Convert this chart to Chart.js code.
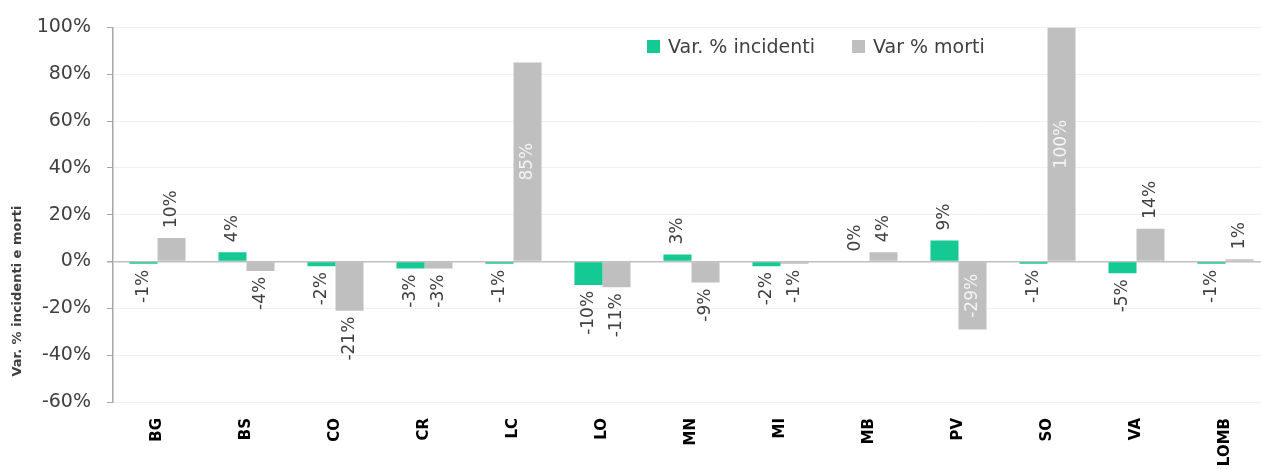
<!DOCTYPE html>
<html>
<head>
<meta charset="utf-8">
<script src="https://cdn.jsdelivr.net/npm/chart.js@4"></script>
<style>
  html, body { margin: 0; padding: 0; background: #fff; overflow: hidden; }
  #wrap { position: relative; width: 1272px; height: 469px; }
  #legend { position: absolute; left: 647px; top: 35px; list-style: none; margin: 0; padding: 0;
    display: flex; font-family: "DejaVu Sans", sans-serif; font-size: 19px; color: #404040; }
  #legend li { display: flex; align-items: center; margin-right: 37px; }
  #legend span { display: inline-block; width: 13px; height: 13px; margin-right: 8px; }
</style>
</head>
<body>
<div id="wrap">
  <canvas id="myChart" width="1272" height="469"></canvas>
  <ul id="legend"></ul>
</div>
<script>
  // dati
  const categories = ["BG", "BS", "CO", "CR", "LC", "LO", "MN", "MI", "MB", "PV", "SO", "VA", "LOMB"];
  const incidenti = [-1, 4, -2, -3, -1, -10, 3, -2, 0, 9, -1, -5, -1];
  const morti = [10, -4, -21, -3, 85, -11, -9, -1, 4, -29, 100, 14, 1];
  const seriesNames = ["Var. % incidenti", "Var % morti"];
  const colors = ["#14c994", "#bfbfbf"];
  const yTicks = [-60, -40, -20, 0, 20, 40, 60, 80, 100];
  const yTitle = "Var. % incidenti e morti";

  // etichette dei valori (ruotate) + titolo asse y
  const valueLabels = {
    id: "valueLabels",
    afterDatasetsDraw(chart) {
      const ctx = chart.ctx;
      chart.data.datasets.forEach((ds, i) => {
        const meta = chart.getDatasetMeta(i);
        meta.data.forEach((bar, j) => {
          const v = ds.data[j];
          const txt = v + "%";
          ctx.save();
          ctx.font = '17px "DejaVu Sans", sans-serif';
          ctx.textBaseline = "middle";
          if (Math.abs(v) >= 25) {
            // dentro la barra
            ctx.fillStyle = "#f4f4f4";
            ctx.translate(bar.x, (bar.y + bar.base) / 2);
            ctx.rotate(-Math.PI / 2);
            ctx.textAlign = "center";
          } else if (v >= 0) {
            ctx.fillStyle = "#404040";
            ctx.translate(bar.x, bar.y - 10);
            ctx.rotate(-Math.PI / 2);
            ctx.textAlign = "left";
          } else {
            ctx.fillStyle = "#404040";
            ctx.translate(bar.x, bar.y + 6);
            ctx.rotate(-Math.PI / 2);
            ctx.textAlign = "right";
          }
          ctx.fillText(txt, 0, 0);
          ctx.restore();
        });
      });

      // titolo asse y
      const area = chart.chartArea;
      ctx.save();
      ctx.font = 'bold 13px "DejaVu Sans", sans-serif';
      ctx.fillStyle = "#404040";
      ctx.textAlign = "center";
      ctx.textBaseline = "middle";
      ctx.translate(18, area.bottom - 111);
      ctx.rotate(-Math.PI / 2);
      ctx.fillText(yTitle, 0, 0);
      ctx.restore();
    }
  };

  const data = {
    labels: categories,
    datasets: [
      { label: seriesNames[0], data: incidenti, backgroundColor: colors[0] },
      { label: seriesNames[1], data: morti, backgroundColor: colors[1] },
    ],
  };

  const options = {
    responsive: false,
    animation: false,
    layout: { padding: { top: 12, right: 2, left: 0, bottom: 0 } },
    datasets: { bar: { barPercentage: 1, categoryPercentage: 0.63 } },
    plugins: { legend: { display: false }, tooltip: { enabled: false } },
    scales: {
      x: {
        grid: { display: false },
        border: { display: false },
        ticks: {
          minRotation: 90, maxRotation: 90, autoSkip: false, padding: 8,
          color: "#000",
          font: { family: "DejaVu Sans", size: 15, weight: "bold" },
        },
        afterFit(scale) { scale.height = 67; },
      },
      y: {
        min: -60, max: 100,
        afterBuildTicks(scale) { scale.ticks = yTicks.map(v => ({ value: v })); },
        ticks: {
          padding: 16,
          color: "#404040",
          font: { family: "DejaVu Sans", size: 19 },
          callback: v => v + "%",
        },
        grid: {
          color: c => (c.tick && c.tick.value === 0 ? "#bfbfbf" : "#f0f0f0"),
          lineWidth: c => (c.tick && c.tick.value === 0 ? 1.5 : 1),
          tickColor: "#a6a6a6",
          tickLength: 6,
        },
        border: { color: "#a6a6a6", width: 1.5 },
        afterFit(scale) { scale.width = 113; },
      },
    },
  };

  const ctx = document.getElementById("myChart").getContext("2d");
  const myChart = new Chart(ctx, {
    type: "bar",
    data: data,
    options: options,
    plugins: [valueLabels],
  });

  // legenda HTML
  const legend = document.getElementById("legend");
  for (let i = 0; i < seriesNames.length; i++) {
    const li = document.createElement("li");
    li.innerHTML = `<span style="background-color:${colors[i]};"></span>${seriesNames[i]}`;
    legend.appendChild(li);
  }
</script>
</body>
</html>
